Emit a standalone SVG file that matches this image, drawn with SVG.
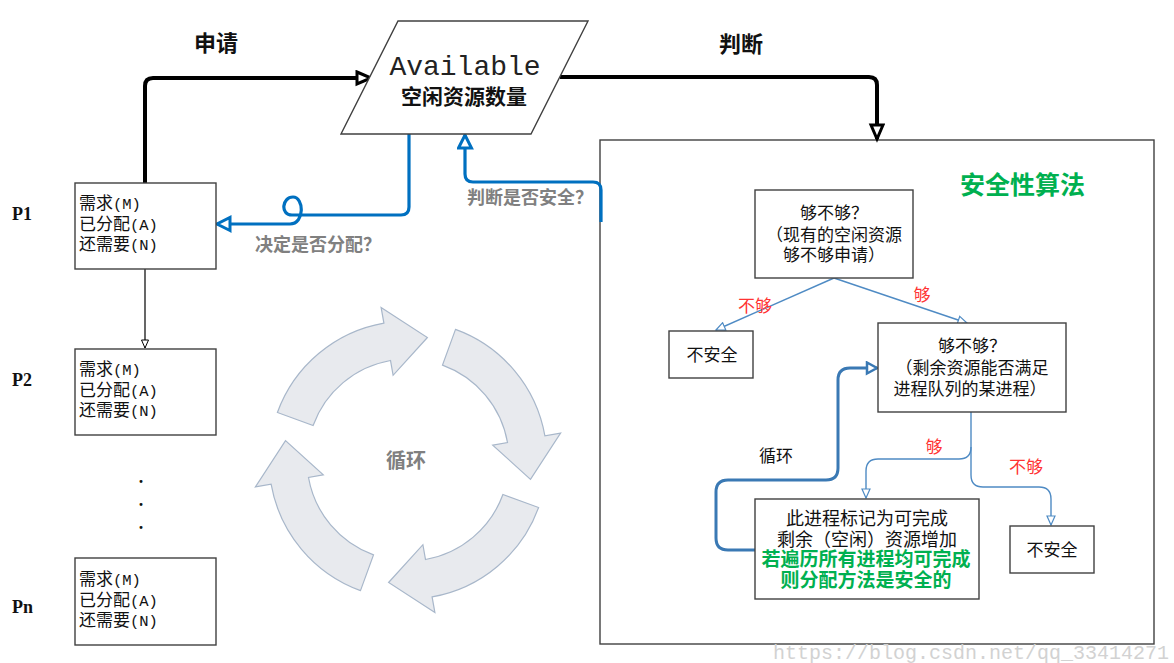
<svg xmlns="http://www.w3.org/2000/svg" width="1174" height="663" viewBox="0 0 1174 663">
<style>
.box{fill:#fff;stroke:#404040;stroke-width:1.4}
.t{font-family:"Noto Sans CJK SC",sans-serif;font-size:17px;fill:#111}
.m{text-anchor:middle}
.a{font-family:"Liberation Mono",monospace;font-size:15.5px}
.bold{font-weight:bold}
.gray{fill:#808080;font-weight:bold;font-size:18px}
.red{fill:#ff3333}
.green{fill:#00b050;font-weight:bold}
.p{font-family:"Liberation Serif",serif;font-weight:bold;font-size:18px;fill:#111}
.cyc{fill:#e8eaee;stroke:#a8b7ca;stroke-width:1.2}
.blk{fill:none;stroke:#000;stroke-width:4}
.blu{fill:none;stroke:#0070c0;stroke-width:3.2}
.sb{fill:none;stroke:#4f8bc4;stroke-width:1.4}
.sbt{fill:none;stroke:#3a79b4;stroke-width:3}
</style>
<defs>
<marker id="mBlk" markerUnits="userSpaceOnUse" markerWidth="22" markerHeight="18" refX="16" refY="8" orient="auto"><path d="M2,2 L16,8 L2,14 Z" fill="#fff" stroke="#000" stroke-width="3"/></marker>
<marker id="mBlu" markerUnits="userSpaceOnUse" markerWidth="22" markerHeight="20" refX="15" refY="8.5" orient="auto"><path d="M2,2 L15,8.5 L2,15 Z" fill="#fff" stroke="#0070c0" stroke-width="3"/></marker>
<marker id="mSbt" markerUnits="userSpaceOnUse" markerWidth="18" markerHeight="16" refX="12" refY="7" orient="auto"><path d="M2,1.5 L12,7 L2,12.5 Z" fill="#fff" stroke="#3a79b4" stroke-width="2.5"/></marker>
<marker id="mSb" markerUnits="userSpaceOnUse" markerWidth="12" markerHeight="10" refX="10" refY="5" orient="auto"><path d="M1,1 L10,5 L1,9 Z" fill="#fff" stroke="#4f8bc4" stroke-width="1.2"/></marker>
<marker id="mTh" markerUnits="userSpaceOnUse" markerWidth="12" markerHeight="10" refX="9" refY="4.5" orient="auto"><path d="M1,1 L9,4.5 L1,8 Z" fill="#fff" stroke="#000" stroke-width="1"/></marker>
</defs>

<g id="cycle">
<path class="cyc" d="M538.6,507.5 A139,139 0 0,1 432.1,596.9 L434.9,612.6 L388.6,582.5 L422.9,544.7 L425.5,559.5 A101,101 0 0,0 502.9,494.5 Z"/>
<path class="cyc" d="M360.5,590.6 A139,139 0 0,1 271.1,484.1 L255.4,486.9 L285.5,440.6 L323.3,474.9 L308.5,477.5 A101,101 0 0,0 373.5,554.9 Z"/>
<path class="cyc" d="M277.4,412.5 A139,139 0 0,1 383.9,323.1 L381.1,307.4 L427.4,337.5 L393.1,375.3 L390.5,360.5 A101,101 0 0,0 313.1,425.5 Z"/>
<path class="cyc" d="M455.5,329.4 A139,139 0 0,1 544.9,435.9 L560.6,433.1 L530.5,479.4 L492.7,445.1 L507.5,442.5 A101,101 0 0,0 442.5,365.1 Z"/>
<text class="t m" x="406" y="468" style="fill:#808080;font-weight:bold;font-size:20px">循环</text>
</g>

<g id="safety">
<rect class="box" x="600" y="140" width="554" height="504"/>
<text class="t green" x="960" y="194" style="font-size:25px">安全性算法</text>
</g>

<g id="connectors">
<path class="blk" d="M145,183 V86 Q145,78 153,78 H371" marker-end="url(#mBlk)"/>
<path class="blk" d="M560,77 H869 Q877,77 877,85 V139" marker-end="url(#mBlk)"/>
<path class="blu" d="M409,134 V207 Q409,215 401,215 H292 C280,215 282,197 293,197 C304,197 305,224 290,224 H217" marker-end="url(#mBlu)"/>
<path class="blu" d="M601,222 V190 Q601,182 593,182 H473 Q465,182 465,174 V135" marker-end="url(#mBlu)"/>
<path fill="none" stroke="#000" stroke-width="1.2" d="M145,269 V348" marker-end="url(#mTh)"/>
<path class="sb" d="M834,278 L716,330" marker-end="url(#mSb)"/>
<path class="sb" d="M834,278 L967,323" marker-end="url(#mSb)"/>
<path class="sb" d="M971,412 V447 Q971,459 959,459 H878 Q866,459 866,471 V498" marker-end="url(#mSb)"/>
<path class="sb" d="M971,447 V475 Q971,487 983,487 H1039 Q1051,487 1051,499 V525" marker-end="url(#mSb)"/>
<path class="sbt" d="M755,550 H728 Q716,550 716,538 V492 Q716,480 728,480 H826 Q838,480 838,468 V380 Q838,368 850,368 H877" marker-end="url(#mSbt)"/>
<text class="t bold m" x="216" y="51" style="font-size:22px">申请</text>
<text class="t bold m" x="741" y="52" style="font-size:22px">判断</text>
<text class="t gray" x="255" y="251">决定是否分配？</text>
<text class="t gray" x="467" y="204">判断是否安全？</text>
<text class="t red m" x="755" y="312">不够</text>
<text class="t red m" x="922" y="301">够</text>
<text class="t red m" x="934" y="453">够</text>
<text class="t red m" x="1026" y="473">不够</text>
<text class="t m" x="776" y="462">循环</text>
</g>

<g id="available">
<polygon class="box" points="398,21 588,21 531,134 341,134"/>
<text class="m" x="465" y="75" style="font-family:'Liberation Mono',monospace;font-size:28px;fill:#222">Available</text>
<text class="t bold m" x="464" y="104" style="font-size:21px">空闲资源数量</text>
</g>

<g id="p1">
<text class="p" x="12" y="220">P1</text>
<rect class="box" x="75" y="183" width="141" height="86"/>
<text class="t" x="79" y="209">需求<tspan class="a">(M)</tspan></text>
<text class="t" x="79" y="230">已分配<tspan class="a">(A)</tspan></text>
<text class="t" x="79" y="250">还需要<tspan class="a">(N)</tspan></text>
</g>
<g id="p2">
<text class="p" x="12" y="386">P2</text>
<rect class="box" x="75" y="349" width="141" height="86"/>
<text class="t" x="79" y="375">需求<tspan class="a">(M)</tspan></text>
<text class="t" x="79" y="396">已分配<tspan class="a">(A)</tspan></text>
<text class="t" x="79" y="416">还需要<tspan class="a">(N)</tspan></text>
</g>
<g id="dots">
<text class="p m" x="141" y="483">.</text>
<text class="p m" x="141" y="506">.</text>
<text class="p m" x="141" y="529">.</text>
</g>
<g id="pn">
<text class="p" x="12" y="613">Pn</text>
<rect class="box" x="75" y="558" width="141" height="87"/>
<text class="t" x="79" y="585">需求<tspan class="a">(M)</tspan></text>
<text class="t" x="79" y="606">已分配<tspan class="a">(A)</tspan></text>
<text class="t" x="79" y="626">还需要<tspan class="a">(N)</tspan></text>
</g>

<g id="check1">
<rect class="box" x="755" y="190" width="158" height="88"/>
<text class="t m" x="834" y="219">够不够？</text>
<text class="t m" x="834" y="241">（现有的空闲资源</text>
<text class="t m" x="834" y="261">够不够申请）</text>
</g>
<g id="unsafe1">
<rect class="box" x="669" y="331" width="84" height="47"/>
<text class="t m" x="712" y="361">不安全</text>
</g>
<g id="check2">
<rect class="box" x="878" y="323" width="188" height="89"/>
<text class="t m" x="972" y="352">够不够？</text>
<text class="t m" x="972" y="374">（剩余资源能否满足</text>
<text class="t m" x="970" y="395">进程队列的某进程）</text>
</g>
<g id="mark">
<rect class="box" x="755" y="499" width="224" height="100"/>
<text class="t m" x="867" y="525" style="font-size:18px">此进程标记为可完成</text>
<text class="t m" x="867" y="546" style="font-size:18px">剩余（空闲）资源增加</text>
<text class="t m green" x="866" y="566" style="font-size:19px">若遍历所有进程均可完成</text>
<text class="t m green" x="866" y="587" style="font-size:19px">则分配方法是安全的</text>
</g>
<g id="unsafe2">
<rect class="box" x="1010" y="526" width="84" height="47"/>
<text class="t m" x="1052" y="556">不安全</text>
</g>

<text x="773" y="659" style="font-family:'Liberation Mono',monospace;font-size:20px;fill:#d2d2d2">https://blog.csdn.net/qq_33414271</text>
</svg>
